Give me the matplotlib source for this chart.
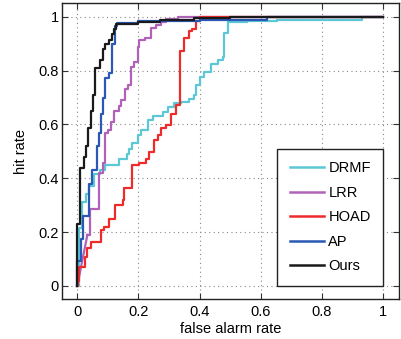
import matplotlib
matplotlib.use("Agg")
import matplotlib.pyplot as plt
from matplotlib.ticker import FixedLocator, FixedFormatter

plt.rcParams['font.family'] = ['Liberation Sans', 'DejaVu Sans']

# ROC points: at each x the curve rises to y (step curves)
drmf_x = [0, 0.005, 0.016, 0.027, 0.038, 0.054, 0.073, 0.09, 0.135, 0.163, 0.17, 0.18, 0.198, 0.209,
          0.23, 0.247, 0.279, 0.296, 0.317, 0.34, 0.366, 0.383, 0.388, 0.4, 0.415, 0.437, 0.459, 0.475,
          0.48, 0.491, 0.556, 0.654, 0.93, 1.0]
drmf_y = [0, 0.215, 0.31, 0.34, 0.37, 0.415, 0.43, 0.449, 0.47, 0.49, 0.51, 0.53, 0.56, 0.579,
          0.616, 0.63, 0.647, 0.665, 0.678, 0.684, 0.696, 0.709, 0.746, 0.777, 0.796, 0.826, 0.839, 0.851,
          0.94, 0.979, 0.985, 0.99, 1.0, 1.0]

lrr_x = [0, 0.033, 0.043, 0.07, 0.084, 0.091, 0.1, 0.11, 0.12, 0.135, 0.143, 0.157, 0.165, 0.176,
         0.187, 0.198, 0.203, 0.22, 0.24, 0.258, 0.274, 0.29, 0.33, 1.0]
lrr_y = [0, 0.19, 0.285, 0.42, 0.455, 0.57, 0.58, 0.61, 0.65, 0.67, 0.69, 0.73, 0.746, 0.815,
         0.833, 0.889, 0.913, 0.923, 0.957, 0.97, 0.98, 0.993, 1.0, 1.0]

hoad_x = [0, 0.003, 0.007, 0.024, 0.033, 0.046, 0.078, 0.087, 0.105, 0.122, 0.149, 0.154, 0.18, 0.203,
          0.225, 0.236, 0.252, 0.263, 0.274, 0.29, 0.306, 0.323, 0.335, 0.348, 0.364, 0.375, 0.389, 0.402, 1.0]
hoad_y = [0, 0.02, 0.07, 0.108, 0.139, 0.164, 0.207, 0.22, 0.25, 0.30, 0.318, 0.362, 0.449, 0.455,
          0.473, 0.498, 0.541, 0.56, 0.585, 0.597, 0.64, 0.672, 0.874, 0.923, 0.948, 0.956, 0.985, 1.0, 1.0]

ap_x = [0, 0, 0.011, 0.018, 0.038, 0.049, 0.065, 0.07, 0.078, 0.085, 0.092, 0.103, 0.114, 0.122,
        0.13, 0.2, 0.4, 0.62, 1.0]
ap_y = [0, 0.093, 0.175, 0.26, 0.38, 0.43, 0.52, 0.57, 0.64, 0.70, 0.774, 0.79, 0.9, 0.967,
        0.978, 0.983, 0.988, 1.0, 1.0]

ours_x = [0, 0, 0.008, 0.022, 0.03, 0.036, 0.044, 0.051, 0.057, 0.075, 0.085, 0.092, 0.103, 0.113,
          0.12, 0.127, 0.14, 0.2, 0.27, 0.38, 0.5, 1.0]
ours_y = [0, 0.23, 0.44, 0.48, 0.52, 0.585, 0.65, 0.71, 0.81, 0.84, 0.88, 0.9, 0.915, 0.935,
          0.955, 0.972, 0.975, 0.98, 0.99, 0.996, 1.0, 1.0]

labels = ['DRMF', 'LRR', 'HOAD', 'AP', 'Ours']
colors = ['#5cc8d6', '#b062b8', '#ee2b2b', '#2a58b4', '#1a1a1a']
ticks = [0, 0.2, 0.4, 0.6, 0.8, 1.0]
tick_labels = ['0', '0.2', '0.4', '0.6', '0.8', '1']

fig = plt.figure(figsize=(4.01, 3.39), dpi=100)
ax = fig.add_axes([0.1546, 0.117, 0.8392, 0.873])

lw = 1.6
ax.step(drmf_x, drmf_y, where='post', color=colors[0], lw=lw, label=labels[0])
ax.plot(lrr_x[:2], lrr_y[:2], color=colors[1], lw=lw)
ax.step(lrr_x[1:], lrr_y[1:], where='post', color=colors[1], lw=lw, label=labels[1])
ax.step(hoad_x, hoad_y, where='post', color=colors[2], lw=lw, label=labels[2])
ax.step(ap_x, ap_y, where='post', color=colors[3], lw=lw, label=labels[3])
ax.step(ours_x, ours_y, where='post', color=colors[4], lw=lw, label=labels[4])

ax.set_xlim(-0.05, 1.05)
ax.set_ylim(-0.05, 1.05)
ax.xaxis.set_major_locator(FixedLocator(ticks))
ax.yaxis.set_major_locator(FixedLocator(ticks))
ax.xaxis.set_major_formatter(FixedFormatter(tick_labels))
ax.yaxis.set_major_formatter(FixedFormatter(tick_labels))
ax.tick_params(direction='in', length=4, width=0.8, top=True, right=True, labelsize=10.5, color='#333333')
ax.tick_params(axis='x', pad=4)
ax.tick_params(axis='y', pad=2.5)
ax.grid(True, linestyle=(0, (1, 3)), color='#888888', lw=0.8)
for s in ax.spines.values():
    s.set_linewidth(1.0)
    s.set_color('#222222')

ax.set_xlabel('false alarm rate', fontsize=10.5, labelpad=2)
ax.set_ylabel('hit rate', fontsize=10.5, labelpad=7)

leg = ax.legend(loc='lower right', bbox_to_anchor=(1.0, 0.0), bbox_transform=ax.transData,
                borderaxespad=0, fontsize=10.5, handlelength=2.35, handletextpad=0.3,
                labelspacing=0.72, borderpad=0.85, fancybox=False, framealpha=1)
leg.get_frame().set_edgecolor('#222222')
leg.get_frame().set_linewidth(1.0)
for h in leg.get_lines():
    h.set_linewidth(1.8)

fig.savefig('out.png', dpi=100)
